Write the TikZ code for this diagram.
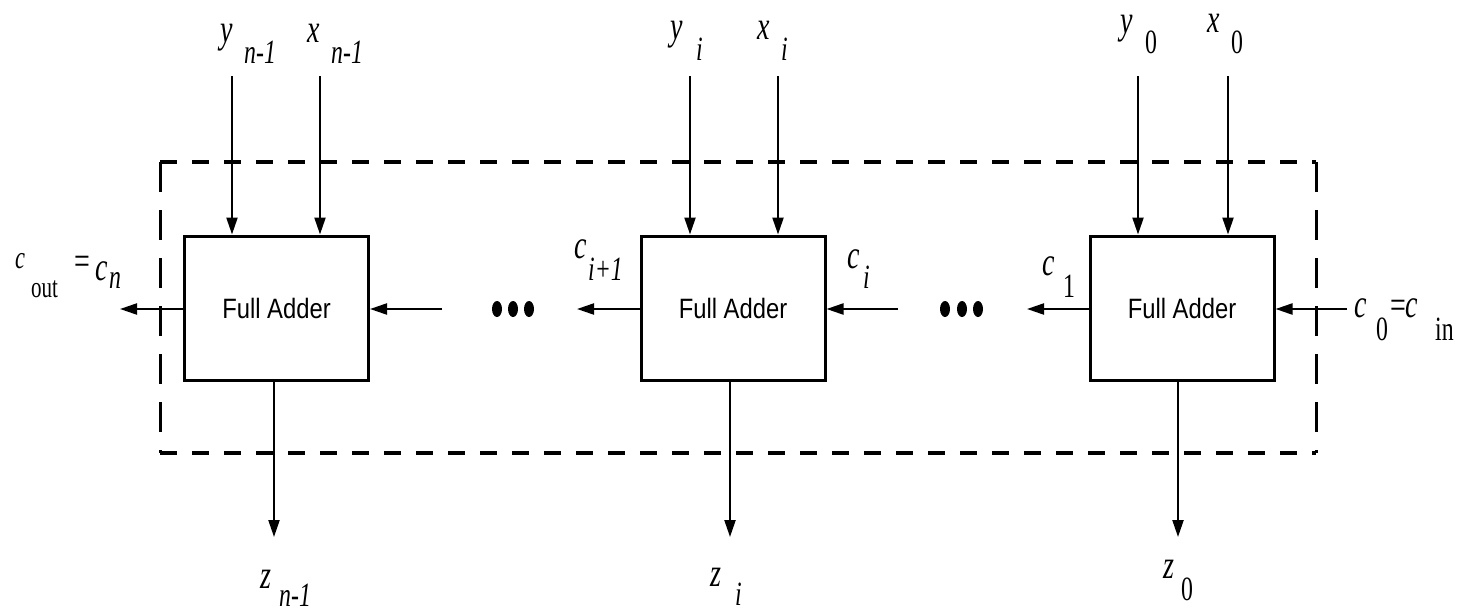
\documentclass[tikz,border=0pt]{standalone}
\usepackage{fontspec}
\usetikzlibrary{arrows.meta}
\newfontfamily\fafont[FakeStretch=0.85]{Liberation Sans}
\newfontfamily\labfont[FakeStretch=0.7]{Liberation Serif}
\begin{document}
\begin{tikzpicture}[x=1pt,y=-1pt,
  fabox/.style={draw,line width=3pt,minimum width=184pt,minimum height=144pt,inner sep=0pt,
    font=\fafont\fontsize{28}{32}\selectfont},
  arr/.style={line width=2.2pt,-{Triangle[length=17pt,width=11pt]}},
  lab/.style={anchor=base west,inner sep=0pt,font=\labfont\fontsize{40}{44}\selectfont},
  sub/.style={anchor=base west,inner sep=0pt,font=\labfont\fontsize{34}{38}\selectfont},
  hdash/.style={line width=3.5pt,dash pattern=on 17pt off 15pt},
  vdash/.style={line width=3pt,dash pattern=on 30pt off 18pt}]
\useasboundingbox (0,0) rectangle (1463,614);

% dashed enclosure
\coordinate (dtl) at (160,162);
\coordinate (dtr) at (1316,162);
\coordinate (dbl) at (160,453);
\coordinate (dbr) at (1316,453);
\draw[hdash] (dtl) -- (dtr);
\draw[hdash] (dbl) -- (dbr);
\draw[vdash] (dtl) -- (dbl);
\draw[vdash] (dtr) -- (dbr);

% full adders
\node[fabox] (fa1) at (276.5,308) {Full Adder};
\node[fabox] (fa2) at (733,308) {Full Adder};
\node[fabox] (fa3) at (1182,308) {Full Adder};

% input coordinates
\coordinate (y1) at (232,76);
\coordinate (x1) at (320,76);
\coordinate (y2) at (690,76);
\coordinate (x2) at (778,76);
\coordinate (y3) at (1138,76);
\coordinate (x3) at (1228,76);
\foreach \c/\b in {y1/fa1,x1/fa1,y2/fa2,x2/fa2,y3/fa3,x3/fa3}
  \draw[arr] (\c) -- (\c |- \b.north);

% outputs
\coordinate (z1) at (274,537);
\coordinate (z2) at (730,537);
\coordinate (z3) at (1178,537);
\draw[arr] (z1 |- fa1.south) -- (z1);
\draw[arr] (z2 |- fa2.south) -- (z2);
\draw[arr] (z3 |- fa3.south) -- (z3);

% carries
\coordinate (cout) at (120,309);
\coordinate (c2a) at (442,309);
\coordinate (c2b) at (577,309);
\coordinate (c3a) at (898,309);
\coordinate (c3b) at (1027,309);
\coordinate (cin) at (1347,309);
\draw[arr] (fa1.west |- cout) -- (cout);
\draw[arr] (c2a) -- (fa1.east |- c2a);
\draw[arr] (fa2.west |- c2b) -- (c2b);
\draw[arr] (c3a) -- (fa2.east |- c3a);
\draw[arr] (fa3.west |- c3b) -- (c3b);
\draw[arr] (cin) -- (fa3.east |- cin);

% dots
\foreach \x in {497,513,529,945,962,978}
  \fill (\x,309) ellipse [x radius=5pt, y radius=8pt];

% top labels
\node[lab] (ly1) at (220,42) {\itshape y};
\node[sub] (ly1s) at (244,63) {\itshape n-1};
\node[lab] (lx1) at (307,42) {\itshape x};
\node[sub] (lx1s) at (331,63) {\itshape n-1};
\node[lab] (ly2) at (670,39) {\itshape y};
\node[sub] (ly2s) at (696,60) {\itshape i};
\node[lab] (lx2) at (757,39) {\itshape x};
\node[sub] (lx2s) at (781,60) {\itshape i};
\node[lab] (ly3) at (1120,33) {\itshape y};
\node[sub] (ly3s) at (1145,53) {0};
\node[lab] (lx3) at (1207,32) {\itshape x};
\node[sub] (lx3s) at (1231,53) {0};

% bottom labels
\node[lab] (lz1) at (260,588) {\itshape z};
\node[sub] (lz1s) at (279,606) {\itshape n-1};
\node[lab] (lz2) at (710,586) {\itshape z};
\node[sub] (lz2s) at (735,605) {\itshape i};
\node[lab] (lz3) at (1163,578) {\itshape z};
\node[sub] (lz3s) at (1181,600) {0};

% carry labels
\node[lab,font=\labfont\fontsize{32}{36}\selectfont] (lco) at (15,268) {\itshape c};
\node[sub,font=\labfont\fontsize{30}{34}\selectfont] (lcos) at (31,297) {out};
\node[lab] (lcoe) at (74,274) {=};
\node[lab] (lcn) at (95,280) {\itshape c};
\node[sub] (lcns) at (109,288) {\itshape n};
\node[lab] (lci1) at (574,258) {\itshape c};
\node[sub] (lci1s) at (588,280) {\itshape i+1};
\node[lab] (lci) at (847,268) {\itshape c};
\node[sub] (lcis) at (863,288) {\itshape i};
\node[lab] (lc1) at (1042,275) {\itshape c};
\node[sub] (lc1s) at (1063,297) {1};
\node[lab] (lc0) at (1354,317) {\itshape c};
\node[sub] (lc0s) at (1376,340) {0};
\node[lab] (lc0e) at (1390,318) {=};
\node[lab] (lcin) at (1405,317) {\itshape c};
\node[sub] (lcins) at (1435,340) {in};
\end{tikzpicture}
\end{document}
